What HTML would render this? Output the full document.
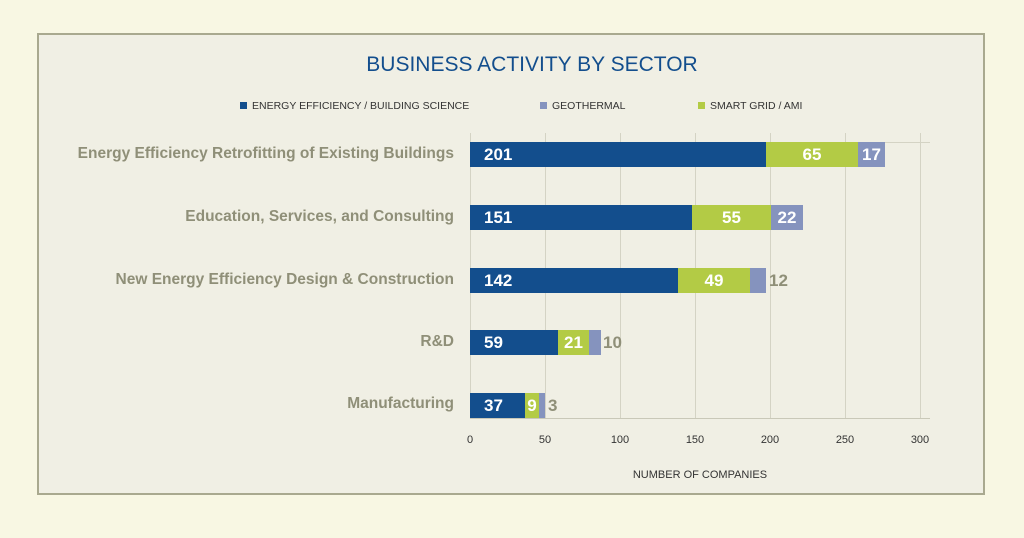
<!DOCTYPE html>
<html><head><style>
body{margin:0;width:1024px;height:538px;background:#f8f7e3;font-family:"Liberation Sans",sans-serif;overflow:hidden;position:relative}
.box{position:absolute;left:37px;top:33px;width:948px;height:462px;background:#f0efe4;border:2px solid #a9a98f;box-sizing:border-box}
.a{position:absolute}
.lab{position:absolute;right:570px;font-weight:bold;color:#8f8f78;font-size:15.5px;white-space:nowrap}
.bar{position:absolute;height:25px;color:#fff;font-weight:bold;font-size:17px;line-height:25px;box-sizing:border-box}
.b{background:#134e8d;padding-left:14px}
.g{background:#b3cb45;text-align:center}
.p{background:#8593be;text-align:center}
.tk{position:absolute;top:434px;font-size:11px;color:#333;width:40px;text-align:center}
.gl{position:absolute;top:133px;width:1px;height:286px;background:#d4d3c4}
.lg{position:absolute;top:100px;font-size:10.5px;color:#333}
.lg i{display:inline-block;width:7px;height:7px;margin-right:5px}
</style></head><body>
<div class="box"></div>
<div class="a" style="left:0;width:1064px;top:53px;text-align:center;color:#134e8d;font-size:21px">BUSINESS ACTIVITY BY SECTOR</div>
<div class="lg" style="left:240px"><i style="background:#134e8d"></i>ENERGY EFFICIENCY / BUILDING SCIENCE</div>
<div class="lg" style="left:540px"><i style="background:#8593be"></i>GEOTHERMAL</div>
<div class="lg" style="left:698px"><i style="background:#b3cb45"></i>SMART GRID / AMI</div>
<div class="gl" style="left:470px"></div><div class="gl" style="left:545px"></div><div class="gl" style="left:620px"></div><div class="gl" style="left:695px"></div><div class="gl" style="left:770px"></div><div class="gl" style="left:845px"></div><div class="gl" style="left:920px"></div>
<div class="a" style="left:470px;top:142px;width:460px;height:1px;background:#d4d3c4"></div>
<div class="a" style="left:470px;top:418px;width:460px;height:1px;background:#c9c8b8"></div>
<div class="tk" style="left:450px">0</div><div class="tk" style="left:525px">50</div><div class="tk" style="left:600px">100</div><div class="tk" style="left:675px">150</div><div class="tk" style="left:750px">200</div><div class="tk" style="left:825px">250</div><div class="tk" style="left:900px">300</div>
<div class="a" style="left:600px;width:200px;top:469px;text-align:center;font-size:11px;color:#333">NUMBER OF COMPANIES</div>

<div class="lab" style="top:145px">Energy Efficiency Retrofitting of Existing Buildings</div>
<div class="bar b" style="left:470px;top:142px;width:296px">201</div>
<div class="bar g" style="left:766px;top:142px;width:92px">65</div>
<div class="bar p" style="left:858px;top:142px;width:27px">17</div>

<div class="lab" style="top:208px">Education, Services, and Consulting</div>
<div class="bar b" style="left:470px;top:205px;width:222px">151</div>
<div class="bar g" style="left:692px;top:205px;width:79px">55</div>
<div class="bar p" style="left:771px;top:205px;width:32px">22</div>

<div class="lab" style="top:271px">New Energy Efficiency Design &amp; Construction</div>
<div class="bar b" style="left:470px;top:268px;width:208px">142</div>
<div class="bar g" style="left:678px;top:268px;width:72px">49</div>
<div class="bar p" style="left:750px;top:268px;width:16px"></div>
<div class="a" style="left:769px;top:268px;line-height:25px;font-weight:bold;font-size:17px;color:#8f8f78">12</div>

<div class="lab" style="top:333px">R&amp;D</div>
<div class="bar b" style="left:470px;top:330px;width:88px">59</div>
<div class="bar g" style="left:558px;top:330px;width:31px">21</div>
<div class="bar p" style="left:589px;top:330px;width:12px"></div>
<div class="a" style="left:603px;top:330px;line-height:25px;font-weight:bold;font-size:17px;color:#8f8f78">10</div>

<div class="lab" style="top:395px">Manufacturing</div>
<div class="bar b" style="left:470px;top:393px;width:55px">37</div>
<div class="bar g" style="left:525px;top:393px;width:14px">9</div>
<div class="bar p" style="left:539px;top:393px;width:6px"></div>
<div class="a" style="left:548px;top:393px;line-height:25px;font-weight:bold;font-size:17px;color:#8f8f78">3</div>
</body></html>
